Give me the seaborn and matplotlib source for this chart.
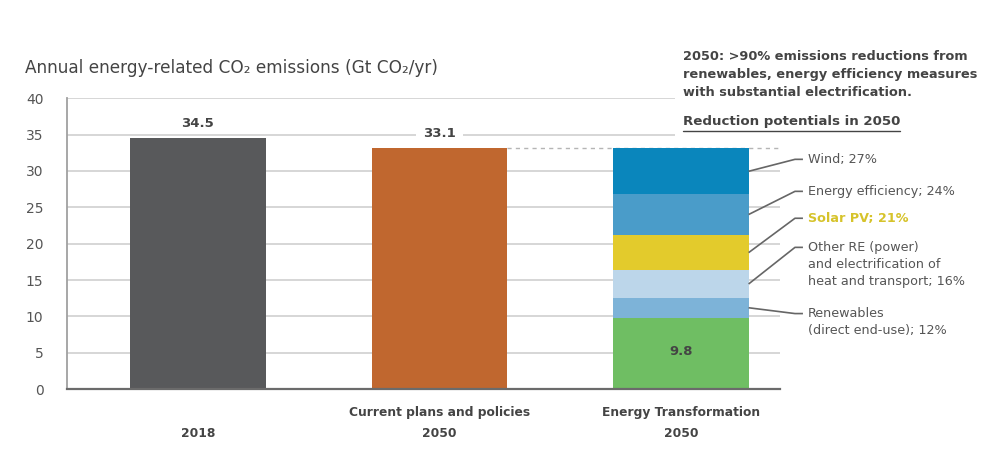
import numpy as np
import pandas as pd
import matplotlib
matplotlib.use("Agg")
import matplotlib.pyplot as plt
import seaborn as sns
from matplotlib.lines import Line2D

# ---------------- data ----------------
categories = ["2018", "Current plans and policies\n2050", "Energy Transformation\n2050"]
tick_labels = ["\n2018", "Current plans and policies\n2050", "Energy Transformation\n2050"]
totals = [34.5, 33.1, 33.1]
bar_colors = ["#58595b", "#c0672f", "#0a86bc"]

seg_names = ["Remaining", "Renewables\n(direct end-use); 12%",
             "Other RE (power)\nand electrification of\nheat and transport; 16%",
             "Solar PV; 21%", "Energy efficiency; 24%", "Wind; 27%"]
seg_values = [9.8, 2.80, 3.73, 4.89, 5.59, 6.29]
seg_colors = ["#6fbe63", "#7db3d8", "#bcd6ea", "#e3cb2c", "#4a9cc9", "#0a86bc"]
label_y = [None, 10.4, 19.5, 23.5, 27.2, 31.6]

y_ticks = [0, 5, 10, 15, 20, 25, 30, 35, 40]

title = "Annual energy-related CO\u2082 emissions (Gt CO\u2082/yr)"
note = ("2050: >90% emissions reductions from\n"
        "renewables, energy efficiency measures\n"
        "with substantial electrification.")
subhead = "Reduction potentials in 2050"

# ---------------- style ----------------
sns.set_theme(style="white")
plt.rcParams['font.family'] = ['DejaVu Sans']
TXT = "#555555"

fig = plt.figure(figsize=(10, 4.59), dpi=100)
ax = fig.add_axes([0.067, 0.152, 0.713, 0.634])

XL, XR = -0.542, 2.41
W = 0.56

df = pd.DataFrame({"cat": categories, "val": totals})
sns.barplot(data=df, x="cat", y="val", hue="cat", palette=bar_colors,
            legend=False, width=W, saturation=1, linewidth=0, ax=ax, zorder=3)

# stacked segments for Energy Transformation
bottoms = np.concatenate([[0], np.cumsum(seg_values)[:-1]])
for v, b, c in zip(seg_values, bottoms, seg_colors):
    ax.bar(2, v, bottom=b, width=W, color=c, linewidth=0, zorder=4)

ax.set_xlim(XL, XR)
ax.set_ylim(0, 40)

# grid lines
for t in y_ticks[1:]:
    xmax = 1.975 if t >= 35 else XR
    ax.hlines(t, XL, xmax, color="#cccccc", lw=1.1, zorder=1)

# dashed reference line
ax.hlines(totals[1], 1 + W / 2, XR, colors="#b5b5b5", linestyles=(0, (3, 3)), lw=1, zorder=2)

# spines
for s in ["top", "right"]:
    ax.spines[s].set_visible(False)
ax.spines["left"].set_color("#a0a0a0")
ax.spines["left"].set_linewidth(1.3)
ax.spines["bottom"].set_color("#6b6b6b")
ax.spines["bottom"].set_linewidth(1.6)
ax.spines["left"].set_zorder(5)
ax.spines["bottom"].set_zorder(5)

ax.set_xlabel("")
ax.set_ylabel("")
ax.set_yticks(y_ticks)
ax.set_yticklabels([str(t) for t in y_ticks])
ax.tick_params(axis="y", length=0, pad=17, labelsize=10, labelcolor=TXT)
ax.set_xticks([0, 1, 2])
ax.set_xticklabels(tick_labels, fontweight="bold", fontsize=8.8, color="#444444", linespacing=1.8)
ax.tick_params(axis="x", length=0, pad=12)

# value labels
ax.text(0, totals[0] + 2.0, f"{totals[0]:.1f}", ha="center", va="center",
        fontsize=9.5, fontweight="bold", color="#444444", zorder=6)
ax.text(1, totals[1] + 2.1, f"{totals[1]:.1f}", ha="center", va="center",
        fontsize=9.5, fontweight="bold", color="#444444", zorder=6,
        bbox=dict(facecolor="white", edgecolor="none", pad=5))
ax.text(2, seg_values[0] / 2 + 0.3, f"{seg_values[0]:.1f}", ha="center", va="center",
        fontsize=9.5, fontweight="bold", color="#444444", zorder=6)

# leader lines and segment labels
for i in range(1, len(seg_values)):
    mid = bottoms[i] + seg_values[i] / 2
    ly = label_y[i]
    ax.plot([2 + W / 2, 2.472, 2.505], [mid, ly, ly], color="#666666", lw=1.2,
            clip_on=False, zorder=6, solid_capstyle="butt")
    is_solar = seg_names[i].startswith("Solar")
    ax.text(2.526, ly + 0.9, seg_names[i], ha="left", va="top", fontsize=9.2,
            linespacing=1.42, color="#d6c32b" if is_solar else TXT,
            fontweight="bold" if is_solar else "normal", clip_on=False)

# title & notes
fig.text(0.025, 1 - 68 / 459, title, ha="left", va="center", fontsize=12.2, color="#444444")
fig.text(0.683, 1 - 50 / 459, note, ha="left", va="top", fontsize=9.3, fontweight="bold",
         color="#444444", linespacing=1.5)
sub = fig.text(0.683, 1 - 122 / 459, subhead, ha="left", va="center", fontsize=9.6,
               fontweight="bold", color="#444444")

fig.canvas.draw()
bb = sub.get_window_extent()
fh = fig.bbox.height
fw = fig.bbox.width
uy = (bb.y0 - 2) / fh
fig.add_artist(Line2D([bb.x0 / fw, bb.x1 / fw], [uy, uy], color="#444444", lw=1))

fig.savefig("out.png", dpi=100)
